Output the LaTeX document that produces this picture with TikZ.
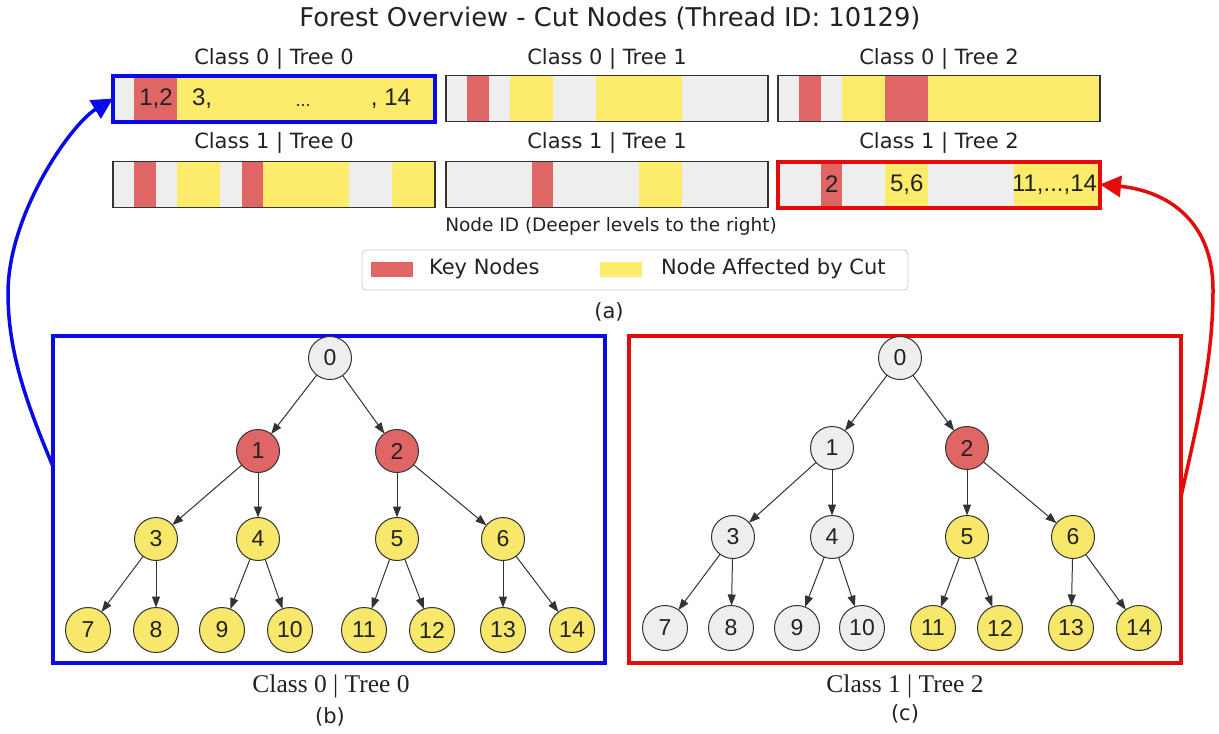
\documentclass[tikz,border=0pt]{standalone}
\usepackage{fontspec}
\setmainfont{DejaVu Sans}
\newfontfamily\helv{Liberation Sans}
\newfontfamily\serifcap{Liberation Serif}
\usetikzlibrary{arrows.meta}

\definecolor{ink}{HTML}{222222}
\definecolor{inkgray}{HTML}{333333}
\definecolor{keyred}{HTML}{E06666}
\definecolor{cutyellow}{HTML}{FDEB6B}
\definecolor{cellgray}{HTML}{EEEEEE}
\definecolor{nodegray}{HTML}{EEEEEE}
\definecolor{nodeyellow}{HTML}{F7E76A}
\definecolor{hiblue}{HTML}{0A0AE8}
\definecolor{hired}{HTML}{E60A0A}
\definecolor{framegray}{HTML}{CCCCCC}

% one run of cells (index #3 to #4) of a 15-cell strip whose left edge is #1 and centre line is #2
\newcommand\cellrun[5]{\fill[#5] ({#1+#3*21.467},{#2-23}) rectangle ({#1+(#4+1)*21.467},{#2+23});}

\begin{document}
\begin{tikzpicture}[x=1pt,y=-1pt,
  every node/.style={inner sep=0pt, outer sep=0pt, text=ink},
  titletext/.style={font=\fontsize{25.8}{30}\selectfont},
  paneltitle/.style={font=\fontsize{21}{25}\selectfont},
  axislabel/.style={font=\fontsize{18.5}{22}\selectfont},
  legendtext/.style={font=\fontsize{21}{25}\selectfont, anchor=west},
  sublabel/.style={font=\fontsize{21}{25}\selectfont},
  celltext/.style={font=\helv\fontsize{24}{28}\selectfont},
  barbox/.style={fill=cellgray, minimum width=322pt, minimum height=46pt},
  barline/.style={draw=inkgray, line width=1.3pt},
  bluemark/.style={draw=hiblue, line width=4pt},
  redmark/.style={draw=hired, line width=4pt},
  treebox/.style={minimum width=552pt, minimum height=327pt, line width=3.5pt},
  tnode/.style={circle, draw=inkgray, line width=1pt, minimum size=43pt, font=\helv\fontsize{23}{23}\selectfont},
  leaf/.style={tnode, minimum size=45pt},
  gn/.style={fill=nodegray}, rn/.style={fill=keyred}, yn/.style={fill=nodeyellow},
  tedge/.style={draw=inkgray, line width=1pt, -{Triangle[length=11pt,width=8pt]}},
  caption/.style={font=\serifcap\fontsize{25.5}{30}\selectfont},
  link/.style={line width=3.5pt, -{Triangle[length=21pt,width=21pt]}},
  swatch/.style={minimum width=42pt, minimum height=15pt},
  legendframe/.style={draw=framegray, line width=0.9pt, fill=white, rounded corners=4pt, minimum width=546pt, minimum height=40pt}
]
\useasboundingbox (0,0) rectangle (1219,734);
\fill[white] (0,0) rectangle (1219,734);

% ---------- forest overview strips ----------
\node[titletext] (title) at (610,18) {Forest Overview - Cut Nodes (Thread ID: 10129)};

\node[paneltitle] (tA) at (274,59) {Class 0 | Tree 0};
\node[paneltitle] (tB) at (607,59) {Class 0 | Tree 1};
\node[paneltitle] (tC) at (939,59) {Class 0 | Tree 2};
\node[paneltitle] (tD) at (274,143) {Class 1 | Tree 0};
\node[paneltitle] (tE) at (607,143) {Class 1 | Tree 1};
\node[paneltitle] (tF) at (939,143) {Class 1 | Tree 2};

% Class 0 | Tree 0
\node[barbox] (barA) at (274,98.5) {};
\cellrun{113}{98.5}{1}{2}{keyred}
\cellrun{113}{98.5}{3}{14}{cutyellow}
\draw[bluemark] (barA.south west) rectangle (barA.north east);
\node[celltext] (aK) at (156,98.5) {1,2};
\node[celltext, anchor=west] (aS) at (192,98.5) {3,};
\node[celltext, font=\helv\fontsize{18}{20}\selectfont, anchor=base] (aM) at (303,106) {...};
\node[celltext, anchor=east] (aE) at (411,98.5) {, 14};

% Class 0 | Tree 1
\node[barbox] (barB) at (607,98.5) {};
\cellrun{446}{98.5}{1}{1}{keyred}
\cellrun{446}{98.5}{3}{4}{cutyellow}
\cellrun{446}{98.5}{7}{10}{cutyellow}
\draw[barline] (barB.south west) rectangle (barB.north east);

% Class 0 | Tree 2
\node[barbox] (barC) at (939,98.5) {};
\cellrun{778}{98.5}{1}{1}{keyred}
\cellrun{778}{98.5}{3}{4}{cutyellow}
\cellrun{778}{98.5}{5}{6}{keyred}
\cellrun{778}{98.5}{7}{14}{cutyellow}
\draw[barline] (barC.south west) rectangle (barC.north east);

% Class 1 | Tree 0
\node[barbox] (barD) at (274,184.5) {};
\cellrun{113}{184.5}{1}{1}{keyred}
\cellrun{113}{184.5}{3}{4}{cutyellow}
\cellrun{113}{184.5}{6}{6}{keyred}
\cellrun{113}{184.5}{7}{10}{cutyellow}
\cellrun{113}{184.5}{13}{14}{cutyellow}
\draw[barline] (barD.south west) rectangle (barD.north east);

% Class 1 | Tree 1
\node[barbox] (barE) at (607,184.5) {};
\cellrun{446}{184.5}{4}{4}{keyred}
\cellrun{446}{184.5}{9}{10}{cutyellow}
\draw[barline] (barE.south west) rectangle (barE.north east);

% Class 1 | Tree 2
\node[barbox] (barF) at (939,184.5) {};
\cellrun{778}{184.5}{2}{2}{keyred}
\cellrun{778}{184.5}{5}{6}{cutyellow}
\cellrun{778}{184.5}{11}{14}{cutyellow}
\draw[redmark] (barF.south west) rectangle (barF.north east);
\node[celltext] (fK) at (831.7,184.5) {2};
\node[celltext] (fM) at (906.8,184.5) {5,6};
\node[celltext, anchor=east] (fE) at (1097,184.5) {11,...,14};

\node[axislabel] (xlab) at (611,226) {Node ID (Deeper levels to the right)};

% legend
\node[legendframe] (legend) at (635,270) {};
\node[swatch, fill=keyred] (swR) at (392,269) {};
\node[legendtext] (lgR) at (429,269) {Key Nodes};
\node[swatch, fill=cutyellow] (swY) at (621,269) {};
\node[legendtext] (lgY) at (661,269) {Node Affected by Cut};

\node[sublabel] (subA) at (609,312) {(a)};

% ---------- tree panels ----------
\node[treebox, draw=hiblue] (boxL) at (329,499.5) {};
\node[treebox, draw=hired] (boxR) at (905,499.5) {};

% Class 0 | Tree 0
\node[tnode, gn] (L0) at (330,358) {0};
\node[tnode, rn] (L1) at (258,451) {1};
\node[tnode, rn] (L2) at (397,451) {2};
\node[tnode, yn] (L3) at (156,539) {3};
\node[tnode, yn] (L4) at (258,539) {4};
\node[tnode, yn] (L5) at (397,539) {5};
\node[tnode, yn] (L6) at (503,539) {6};
\node[leaf, yn] (L7) at (88,630) {7};
\node[leaf, yn] (L8) at (156,630) {8};
\node[leaf, yn] (L9) at (222,630) {9};
\node[leaf, yn] (L10) at (290,630) {10};
\node[leaf, yn] (L11) at (364,630) {11};
\node[leaf, yn] (L12) at (432,630) {12};
\node[leaf, yn] (L13) at (503,630) {13};
\node[leaf, yn] (L14) at (572,630) {14};

% Class 1 | Tree 2
\node[tnode, gn] (R0) at (900,358) {0};
\node[tnode, gn] (R1) at (832,448) {1};
\node[tnode, rn] (R2) at (967,448) {2};
\node[tnode, gn] (R3) at (733,537) {3};
\node[tnode, gn] (R4) at (832,537) {4};
\node[tnode, yn] (R5) at (967,537) {5};
\node[tnode, yn] (R6) at (1073,537) {6};
\node[leaf, gn] (R7) at (665,628) {7};
\node[leaf, gn] (R8) at (731,628) {8};
\node[leaf, gn] (R9) at (797,628) {9};
\node[leaf, gn] (R10) at (862,628) {10};
\node[leaf, yn] (R11) at (933,628) {11};
\node[leaf, yn] (R12) at (1000,628) {12};
\node[leaf, yn] (R13) at (1071,628) {13};
\node[leaf, yn] (R14) at (1139,628) {14};

\foreach \t in {L,R}{
  \foreach \p/\c in {0/1,0/2,1/3,1/4,2/5,2/6,3/7,3/8,4/9,4/10,5/11,5/12,6/13,6/14}{
    \draw[tedge] (\t\p) -- (\t\c);
  }
}

\node[caption] (capL) at (331,686) {Class 0 | Tree 0};
\node[sublabel] (subB) at (330,717) {(b)};
\node[caption] (capR) at (905,686) {Class 1 | Tree 2};
\node[sublabel] (subC) at (905,714) {(c)};

% ---------- links from the trees back to their strips ----------
\draw[link, hiblue] ([yshift=33pt]boxL.west)
  .. controls (25,400) and (8,350) .. (8,293)
  .. controls (8,215) and (70,125) .. (barA.west);
\draw[link, hired] ([yshift=3pt]boxR.east)
  .. controls (1198,420) and (1213,360) .. (1213,290)
  .. controls (1213,215) and (1160,190) .. (barF.east);
\end{tikzpicture}
\end{document}
